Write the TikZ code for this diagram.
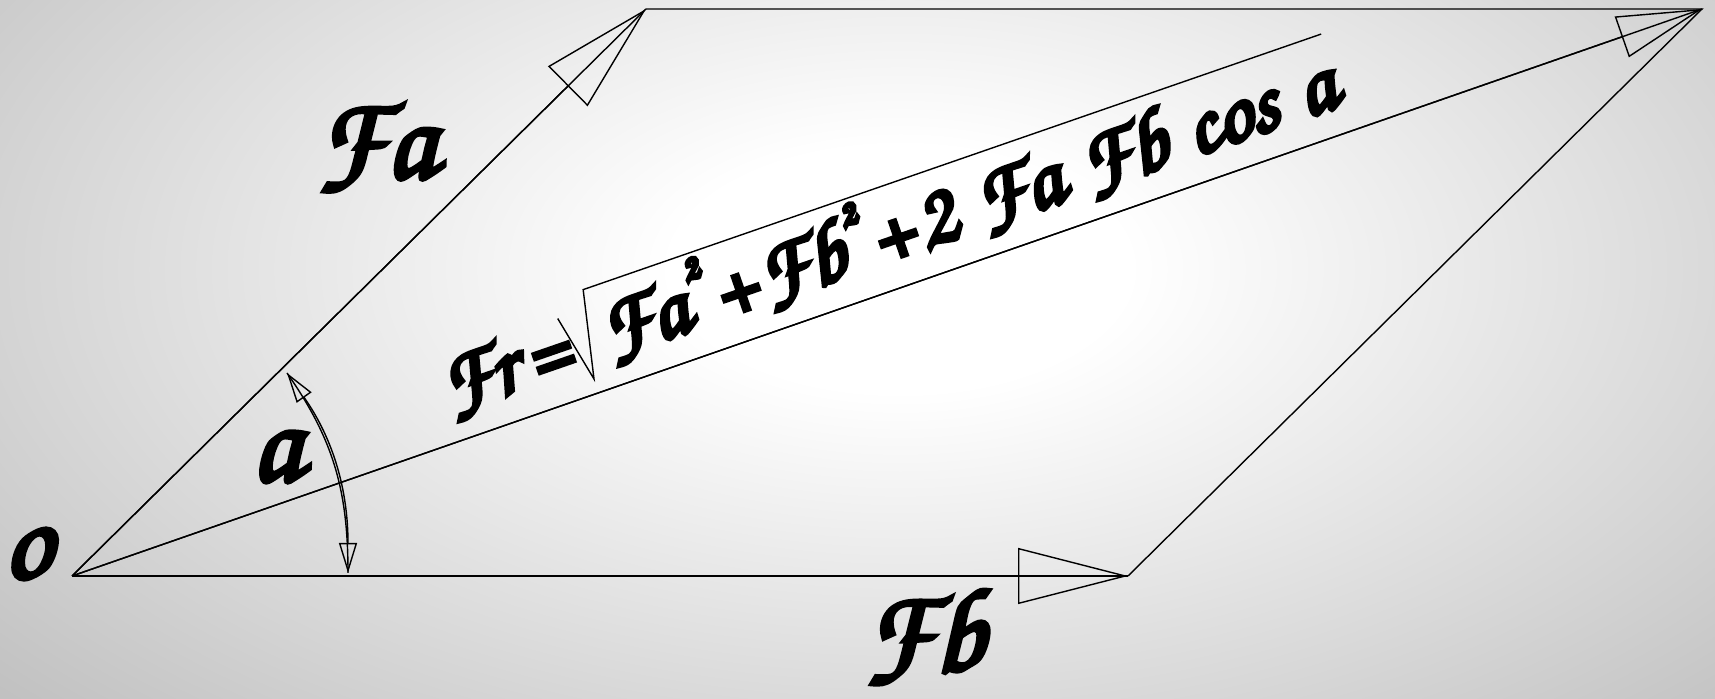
\documentclass[tikz,border=0pt]{standalone}
\usepackage[T1]{fontenc}
\usetikzlibrary{arrows.meta,positioning}
\newcommand\chancery{\fontfamily{pzc}\fontseries{mb}\fontshape{it}\selectfont}
\newcommand\heavy[1]{\special{pdf:literal direct 2 Tr 1.3 w}#1\special{pdf:literal direct 0 Tr 0.3985 w}}
\newcommand\sqr{\kern2.5pt\raisebox{1.25ex}{\fontsize{10}{10}\selectfont 2}\kern1.5pt}
\newcommand\gap{\hspace{0.27em}}
\pgfdeclareradialshading{paper}{\pgfpoint{0bp}{0bp}}{color(0bp)=(white); color(6bp)=(white); color(50bp)=(black!42); color(75bp)=(black!55)}

\begin{document}
\begin{tikzpicture}[
  line width=0.4pt,
  lbl/.style={inner sep=0pt,font=\chancery\fontsize{34}{34}\selectfont},
  eqn/.style={inner sep=0pt,font=\chancery\fontsize{25}{25}\selectfont},
  vec/.style={postaction={draw,-{Triangle[open,length=11mm,width=5.6mm]}}},
  res/.style={postaction={draw,-{Triangle[open,length=8.5mm,width=4.3mm]}}},
  ang/.style={postaction={draw,{Triangle[open,length=3mm,width=1.8mm]}-{Triangle[open,length=3mm,width=1.8mm]}}}
]
\useasboundingbox (0,0) rectangle (17.15,6.99);
\clip (0,0) rectangle (17.15,6.99);
% background
\shade[shading=paper] (-0.5,-0.8) rectangle (18.5,9.4);
% the parallelogram
\coordinate (O) at (0.72,1.23);
\coordinate (A) at (6.46,6.90);
\coordinate (B) at (11.28,1.23);
\coordinate (R) at (17.02,6.90);
\draw[vec] (O) -- (A);
\draw[vec] (O) -- (B);
\draw[res] (O) -- (R);
\draw (A) -- (R) -- (B);
% the angle
\coordinate (a0) at (3.48,1.26);
\coordinate (a1) at (2.87,3.26);
\draw[ang] (a0) to[out=90,in=-55] (a1);
% labels
\node[lbl] (o) at (0.27,1.46) {\heavy{o}};
\node[lbl] (fa) at (3.76,5.50) {\heavy{Fa}};
\node[lbl] (al) at (2.76,2.43) {\heavy{a}};
\node[lbl] (fb) at (9.24,0.63) {\heavy{Fb}};
% the formula along the resultant
\begin{scope}[shift={(5.94,3.20)},rotate=19.1,transform shape]
  \node[eqn,anchor=base east] (fr) at (-0.12,0.14) {\heavy{Fr\kern3pt=}};
  \node[eqn,anchor=base west] (rad) at (0.22,0.14)
    {\heavy{Fa\sqr+\kern1pt Fb\sqr+\kern1pt 2\gap Fa\gap Fb\gap cos\gap a}};
  \coordinate (s0) at (-0.145,0.69);
  \coordinate (s1) at (0,0);
  \coordinate (s2) at (0.19,0.88);
  \coordinate (s3) at (8.0,0.88);
  \draw (s0) -- (s1) -- (s2) -- (s3);
\end{scope}
\end{tikzpicture}
\end{document}
